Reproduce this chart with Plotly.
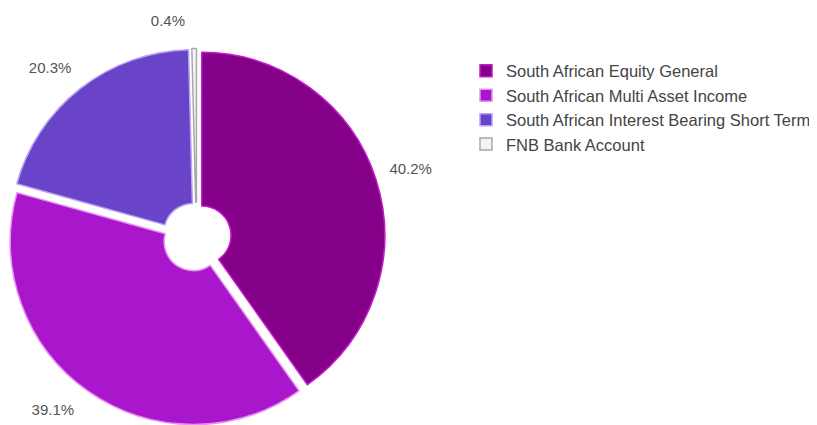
import plotly.graph_objects as go

labels = ["South African Equity General", "South African Multi Asset Income",
          "South African Interest Bearing Short Term", "FNB Bank Account"]
values = [40.2, 39.1, 20.3, 0.4]
fill_colors = ["#850088", "#a916cc", "#6944c8", "#f4f4f4"]
line_colors = ["#c41ccc", "#e690f4", "#b9a2f6", "#a8a8a8"]

# The page body has an 8px margin, so positions below are in figure pixels
W, H = 817, 425
PULL = 0.03
R = 183              # pie radius in px
CX, CY = 188.5, 229  # pie centre, px from left / top of the figure
BOX = 2 * R * (1 + PULL)

# blank padding lines push the outside labels a little further out
NB = "\u00a0"
pct = [f"{v:.1f}%" for v in values]
pad_text = [
    f"{NB}{pct[0]}<br>{NB}",
    f"{NB}<br>{pct[1]}<br>{NB}",
    f"{pct[2]}<br>{NB}",
    f"{pct[3]}<br>{NB}",
]

fig = go.Figure(go.Pie(
    labels=labels,
    values=values,
    text=pad_text,
    sort=False,
    direction="clockwise",
    rotation=0,
    hole=0.16,
    pull=[PULL] * len(values),
    marker=dict(colors=fill_colors, line=dict(color=line_colors, width=1.5)),
    texttemplate="%{text}",
    textposition="outside",
    textfont=dict(color="#555555", size=15, family="Liberation Sans, Arial, sans-serif"),
    hovertemplate="%{label}: %{value:.1f}%<extra></extra>",
    domain=dict(x=[(CX - BOX / 2) / W, (CX + BOX / 2) / W],
                y=[(H - CY - BOX / 2) / H, (H - CY + BOX / 2) / H]),
))

fig.update_layout(
    width=W, height=H,
    margin=dict(l=0, r=0, t=0, b=0, autoexpand=False),
    paper_bgcolor="white",
    plot_bgcolor="white",
    font=dict(family="Liberation Sans, Arial, sans-serif", color="#444444"),
    legend=dict(x=458 / W, y=1 - 45.5 / H, xanchor="left", yanchor="top",
                font=dict(size=16.5, color="#444444",
                          family="Liberation Sans, Arial, sans-serif"),
                bgcolor="rgba(0,0,0,0)"),
    showlegend=True,
)

fig.write_html("out.html")
